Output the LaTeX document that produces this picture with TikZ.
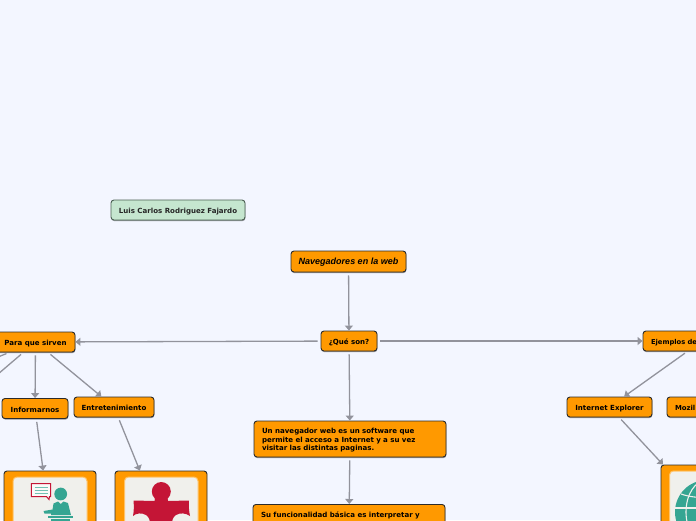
\documentclass[tikz,border=0pt]{standalone}
\usepackage{fontspec}
\setmainfont{DejaVu Sans}
\newfontfamily\navfont{Liberation Sans}
\usetikzlibrary{arrows.meta,shadows}
\definecolor{bgc}{HTML}{F3F6FF}
\definecolor{org}{HTML}{FF9900}
\definecolor{edgec}{HTML}{2B2B2B}
\definecolor{conc}{HTML}{92939C}
\definecolor{grn}{HTML}{C5E6CF}
\definecolor{grnb}{HTML}{4A5F52}
\definecolor{teal}{HTML}{35A592}
\definecolor{crim}{HTML}{C41536}
\definecolor{panel}{HTML}{F0F0EC}
\definecolor{panelb}{HTML}{FFC266}
\tikzset{
  box/.style={draw=edgec,line width=.9pt,fill=org,rounded corners=3pt,
    font=\bfseries\fontsize{7.05}{8.7}\selectfont,text=black,inner sep=0pt,
    drop shadow={shadow xshift=.4pt,shadow yshift=-1.1pt,opacity=.4,fill=black}},
  oneline/.style={text height=8pt,text depth=1pt},
  wbox/.style={box,oneline,minimum width=#1,minimum height=20pt},
  lbox/.style={box,text width=#1,align=left,inner xsep=8pt},
  imgbox/.style={draw=edgec,line width=.9pt,fill=org,rounded corners=3pt,minimum width=92pt,minimum height=#1,inner sep=0pt},
  panelbox/.style={draw=panelb,line width=1pt,fill=panel,rounded corners=4pt},
  conn/.style={draw=conc,line width=1.3pt,-{Triangle[length=5pt,width=8pt,fill=conc]},shorten <=3pt},
  stub/.style={draw=conc,line width=1.3pt,shorten <=3pt}
}
\begin{document}
\begin{tikzpicture}[x=1pt,y=-1pt]
\useasboundingbox (0,0) rectangle (696,520);
\clip (0,0) rectangle (696,520);
\fill[bgc] (0,0) rectangle (696,520);

\node[box,oneline,draw=grnb,fill=grn,minimum width=134pt,minimum height=20pt,text=black!85] (luis) at (178,210) {Luis Carlos Rodriguez Fajardo};
\node[box,text height=7pt,text depth=1pt,minimum width=115pt,minimum height=21pt,font=\navfont\bfseries\itshape\fontsize{9}{10}\selectfont] (nav) at (348.5,261.5) {Navegadores en la web};
\node[wbox=56pt] (que) at (349,341) {¿Qué son?};
\node[wbox=79pt] (para) at (35.5,342) {Para que sirven};
\node[lbox=102pt,oneline,minimum height=20pt,font=\bfseries\fontsize{6.75}{8.7}\selectfont] (ejem) at (702,341) {Ejemplos de};
\node[wbox=66pt] (info) at (35,408.5) {Informarnos};
\node[wbox=80pt] (entre) at (114,407) {Entretenimiento};
\node[wbox=85pt] (ie) at (609.5,407) {Internet Explorer};
\node[lbox=84pt,oneline,minimum height=20pt,font=\bfseries\fontsize{6.9}{8.7}\selectfont] (moz) at (717,407) {Mozil};
\node[lbox=176pt,minimum height=36pt] (un) at (350,439) {\rule{0pt}{8pt}Un navegador web es un software que\\permite el acceso a Internet y a su vez\\visitar las distintas paginas.};
\node[lbox=176pt,anchor=north,inner ysep=7.5pt,text depth=24pt] (su) at (349,504) {Su funcionalidad básica es interpretar y};

\node[imgbox=104pt] (img1) at (50,523) {};
\node[imgbox=104pt] (img2) at (161,523) {};
\node[imgbox=94pt] (img3) at (707,512) {};

\draw[conn] (nav) -- (que);
\draw[conn] (que) -- (para);
\draw[conn] (que) -- (ejem);
\draw[conn] (que) -- (un);
\draw[conn] (un) -- (su);
\draw[conn] (para) -- (info);
\draw[conn] (para) -- (entre);
\coordinate (off1) at (-30,398);
\coordinate (off2) at (-100,396);
\draw[stub] (para) -- (off1);
\draw[stub] (para) -- (off2);
\draw[conn] (info) -- (img1);
\draw[conn] (entre) -- (img2);
\draw[conn] (ejem) -- (ie);
\draw[conn] (ie) -- (img3);

% presenter picture
\draw[panelbox] (13,477) rectangle (87,530);
\draw[crim,line width=1pt,fill=white!70!panel] (31.3,483.5) -- (50.5,483.5) -- (50.5,496.5) -- (49.5,496.5) -- (49,499.5) -- (46.5,496.5) -- (31.3,496.5) -- cycle;
\foreach \yy in {487,490,493}
  \draw[teal!70!white,line width=.8pt] (34.5,\yy) -- (47.5,\yy);
\fill[teal] (60.7,494) circle (6.4);
\fill[teal] (43.5,511) -- (52.5,509.5) -- (53.5,503.5) -- (58,501.5) -- (60.7,504) -- (63.5,501.5) -- (68,503) -- (71,515) -- (51,515) -- (51,513.5) -- (44.5,513.5) -- cycle;
\fill[teal] (48,515.5) rectangle (72.7,517.5);
\fill[teal] (51,519) rectangle (70,525);

% puzzle picture
\draw[panelbox] (124.5,477) rectangle (198,530);
\fill[crim] (161.3,491.5) circle (9.5);
\fill[crim] (155,498) -- (167.5,498) -- (168,501) -- (189,500.5) .. controls (188.5,506) and (189,511) .. (190,516)
  .. controls (186,513) and (180,512.5) .. (176,515) .. controls (173,517) and (172,520) .. (172,524) -- (150,524)
  .. controls (150,520) and (149,517) .. (146,515) .. controls (142,512.5) and (136,513) .. (133,516)
  .. controls (134,511) and (134,506) .. (133.5,500.5) -- (154.5,501) -- cycle;

% globe picture
\draw[panelbox] (669.5,471) rectangle (745,530);
\fill[teal] (707,512) circle (32);
\draw[panel,line width=1.1pt] (707,512) ellipse (21 and 32);
\draw[panel,line width=1.1pt] (681,494) .. controls (695,499) and (719,499) .. (733,494);
\draw[panel,line width=1.1pt] (675,508) -- (739,508);
\end{tikzpicture}
\end{document}
